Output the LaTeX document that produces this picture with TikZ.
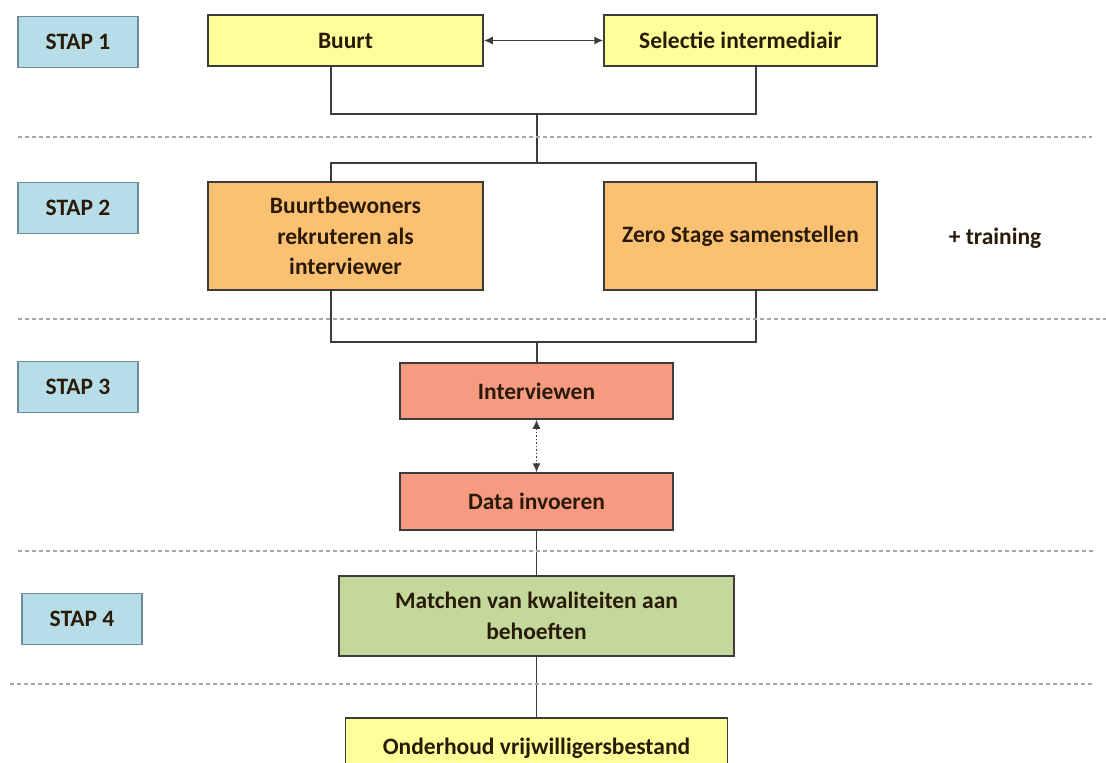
\documentclass[tikz,border=0pt]{standalone}
\usepackage{fontspec}
\setmainfont{Carlito}
\usetikzlibrary{arrows.meta, positioning}

\definecolor{stapblue}{HTML}{B7DEE8}
\definecolor{stapedge}{HTML}{6E8B9B}
\definecolor{buurtyellow}{HTML}{FFFF99}
\definecolor{stageorange}{HTML}{FBC173}
\definecolor{interviewred}{HTML}{F79A82}
\definecolor{matchgreen}{HTML}{C4D89C}
\definecolor{boxedge}{HTML}{3C3C3C}
\definecolor{textdark}{HTML}{2A1A08}

\newcommand{\boxfont}{\fontsize{23.5}{30.5}\selectfont\bfseries}

\tikzset{
    stapbox/.style={rectangle, minimum width=120pt, minimum height=51pt, inner sep=0pt, text centered, draw=stapedge, fill=stapblue, line width=1.5pt, text=textdark, font=\boxfont},
    taskbox/.style={rectangle, minimum height=51pt, inner sep=0pt, align=center, draw=boxedge, line width=1.5pt, text=textdark, font=\boxfont},
    line/.style={draw=boxedge, line width=1.5pt},
    arrow/.style={line, {Latex[length=9pt,width=8pt]}-{Latex[length=9pt,width=8pt]}},
    % lignes de séparation entre les étapes
    separator/.style={draw=gray!70, line width=1.5pt, dash pattern=on 4pt off 3pt}
}

\begin{document}
\begin{tikzpicture}[x=1pt, y=-1pt]

    \useasboundingbox (0,0) rectangle (1106,763);

    % --- COLONNES ---
    \coordinate (lcol) at (331,0);
    \coordinate (rcol) at (756,0);

    % --- STAP 1 ---
    \node (stap1) [stapbox] at (78,42) {STAP 1};
    \node (buurt) [taskbox, fill=buurtyellow, minimum width=275pt] at (345.5,40.5) {Buurt};
    \node (selectie) [taskbox, fill=buurtyellow, minimum width=273pt] at (740.5,40.5) {Selectie intermediair};

    % --- STAP 2 ---
    \node (stap2) [stapbox] at (78,208) {STAP 2};
    \node (bewoners) [taskbox, fill=stageorange, minimum width=275pt, minimum height=108pt] at (345.5,236) {Buurtbewoners\\ rekruteren als\\ interviewer};
    \node (zerostage) [taskbox, fill=stageorange, minimum width=273pt, minimum height=108pt] at (740.5,236) {Zero Stage samenstellen};
    \node (training) [text=textdark, font=\boxfont] at (995,238) {+ training};

    % --- STAP 3 ---
    \node (stap3) [stapbox] at (78,387) {STAP 3};
    \node (interview) [taskbox, fill=interviewred, minimum width=273pt, minimum height=56pt] at (536.5,391) {Interviewen};
    \node (data) [taskbox, fill=interviewred, minimum width=273pt, minimum height=57pt] at (536.5,501.5) {Data invoeren};

    % --- STAP 4 ---
    \node (stap4) [stapbox] at (82,619) {STAP 4};
    \node (matchen) [taskbox, fill=matchgreen, minimum width=395pt, minimum height=80pt] at (536.5,616) {Matchen van kwaliteiten aan\\ behoeften};
    \node (onderhoud) [taskbox, fill=buurtyellow, minimum width=382pt, minimum height=60pt] at (536.5,748) {Onderhoud vrijwilligersbestand};

    % --- VERBINDINGEN ---
    \coordinate (j1) at (537,114);
    \coordinate (j2) at (537,163);
    \coordinate (j3) at (537,342);

    \draw [arrow] (buurt.east) -- (selectie.west);
    \draw [line] (buurt.south -| lcol) |- (j1) -| (selectie.south -| rcol);
    \draw [line] (j1) -- (j2);
    \draw [line] (bewoners.north -| lcol) |- (j2) -| (zerostage.north -| rcol);
    \draw [line] (bewoners.south -| lcol) |- (j3) -| (zerostage.south -| rcol);
    \draw [line] (j3) -- (j3 |- interview.north);
    \draw [arrow, dotted, line width=1.2pt] (interview.south) -- (data.north);
    \draw [line] (data.south) -- (matchen.north);
    \draw [line] (matchen.south) -- (onderhoud.north);

    % --- SEPARATIE ---
    \begin{scope}[on background layer/.try]
    \foreach \y/\xa/\xb in {137/18/1092, 319/18/1106, 551/18/1095, 684/10/1095}
        \draw [separator] (\xa,\y) -- (\xb,\y);
    \end{scope}

\end{tikzpicture}
\end{document}
